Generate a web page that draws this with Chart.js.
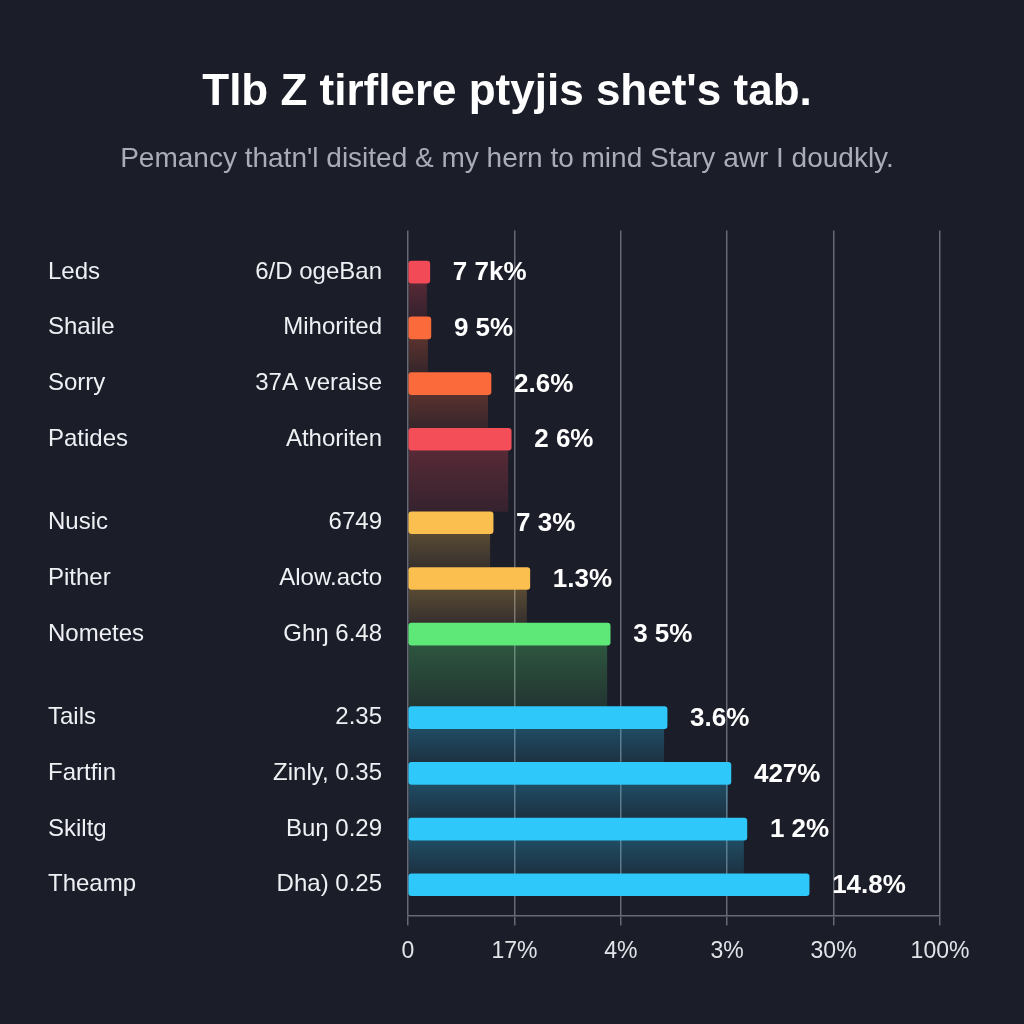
<!DOCTYPE html>
<html>
<head>
<meta charset="utf-8">
<script src="https://cdn.jsdelivr.net/npm/chart.js@4.4.1/dist/chart.umd.min.js"></script>
<style>
  html, body { margin: 0; padding: 0; background: #1b1d29; }
  #wrap { width: 1024px; height: 1024px; }
</style>
</head>
<body>
<div id="wrap"><canvas id="barChart" width="1024" height="1024"></canvas></div>
<script>
// data
const categories = ['Leds', 'Shaile', 'Sorry', 'Patides', 'Nusic', 'Pither', 'Nometes', 'Tails', 'Fartfin', 'Skiltg', 'Theamp'];
const subLabels = ['6/D ogeBan', 'Mihorited', '37A veraise', 'Athoriten', '6749', 'Alow.acto', 'Ghŋ 6.48', '2.35', 'Zinly, 0.35', 'Buŋ 0.29', 'Dha) 0.25'];
const values = [4.1, 4.3, 15.6, 19.4, 16.0, 22.9, 38.0, 48.7, 60.7, 63.7, 75.4];
const valueLabels = ['7 7k%', '9 5%', '2.6%', '2 6%', '7 3%', '1.3%', '3 5%', '3.6%', '427%', '1 2%', '14.8%'];
const groups = [0, 0, 0, 0, 1, 1, 1, 2, 2, 2, 2];
const tickLabels = ['0', '17%', '4%', '3%', '30%', '100%'];

// colours
const barColors = ['#f24a56', '#fb6a3a', '#fb6a3a', '#f44e59', '#fbbf50', '#fbbf50', '#5ee878', '#2ec8fb', '#2ec8fb', '#2ec8fb', '#2ec8fb'];

function hexToRgba(hex, a) {
    const n = parseInt(hex.slice(1), 16);
    return `rgba(${(n >> 16) & 255},${(n >> 8) & 255},${n & 255},${a})`;
}

// rows sit on a linear scale, groups get half a row of extra room
const rowPos = categories.map((_, i) => i + groups[i] * 0.5);

Chart.defaults.font.family = '"Liberation Sans", Arial, sans-serif';

// faded block under each bar, running down to the next bar
const shadowPlugin = {
    id: 'barShadows',
    beforeDatasetsDraw(chart) {
        const ctx = chart.ctx;
        const bars = chart.getDatasetMeta(0).data;
        ctx.save();
        for (let i = 0; i < bars.length - 1; i++) {
            const b = bars[i], next = bars[i + 1];
            const top = b.y + b.height / 2;
            const bottom = next.y - next.height / 2;
            const g = ctx.createLinearGradient(0, top, 0, bottom);
            g.addColorStop(0, hexToRgba(barColors[i], 0.28));
            g.addColorStop(1, hexToRgba(barColors[i], 0.12));
            ctx.fillStyle = g;
            ctx.fillRect(b.base, top, (b.x - b.base) - 3, bottom - top);
        }
        ctx.restore();
    }
};

// left label columns and value labels
const labelPlugin = {
    id: 'rowLabels',
    afterDatasetsDraw(chart) {
        const ctx = chart.ctx;
        const bars = chart.getDatasetMeta(0).data;
        ctx.save();
        ctx.textBaseline = 'middle';
        bars.forEach((b, i) => {
            ctx.font = '24px "Liberation Sans", Arial';
            ctx.fillStyle = '#eef0f3';
            ctx.textAlign = 'left';
            ctx.fillText(categories[i], 48, b.y);
            ctx.textAlign = 'right';
            ctx.fillText(subLabels[i], 382, b.y);

            ctx.font = 'bold 26px "Liberation Sans", Arial';
            ctx.fillStyle = '#ffffff';
            ctx.textAlign = 'left';
            ctx.fillText(valueLabels[i], b.x + 23, b.y + 1);
        });
        ctx.restore();
    }
};

new Chart(document.getElementById('barChart'), {
    type: 'bar',
    data: {
        datasets: [{
            data: values.map((v, i) => ({ x: v, y: rowPos[i] })),
            backgroundColor: barColors,
            borderRadius: 3,
            borderSkipped: false,
            barThickness: 22
        }]
    },
    options: {
        indexAxis: 'y',
        responsive: false,
        animation: false,
        layout: { padding: { left: 74, right: 84, top: 0, bottom: 47 } },
        plugins: {
            legend: { display: false },
            tooltip: { enabled: false },
            title: {
                display: true,
                text: "Tlb Z tirflere ptyjis shet's tab.",
                color: '#ffffff',
                font: { size: 44, weight: 'bold' },
                padding: { top: 66, bottom: 24 }
            },
            subtitle: {
                display: true,
                text: "Pemancy thatn'l disited & my hern to mind Stary awr I doudkly.",
                color: '#a9adb8',
                font: { size: 28 },
                padding: { top: 0, bottom: 54 }
            }
        },
        scales: {
            x: {
                min: 0,
                max: 100,
                ticks: {
                    stepSize: 20,
                    color: '#e2e4e8',
                    font: { size: 23 },
                    padding: 12,
                    callback: (v, i) => tickLabels[i]
                },
                grid: { color: '#666a75', lineWidth: 1.5, tickLength: 10 },
                border: { display: true, color: '#666a75', width: 1.5 }
            },
            y: {
                type: 'linear',
                reverse: true,
                offset: false,
                min: -0.75,
                max: 11.55,
                ticks: { display: false },
                grid: { display: false },
                border: { display: false },
                afterFit(scale) { scale.width = 408 - 74; }
            }
        }
    },
    plugins: [shadowPlugin, labelPlugin]
});
</script>
</body>
</html>
